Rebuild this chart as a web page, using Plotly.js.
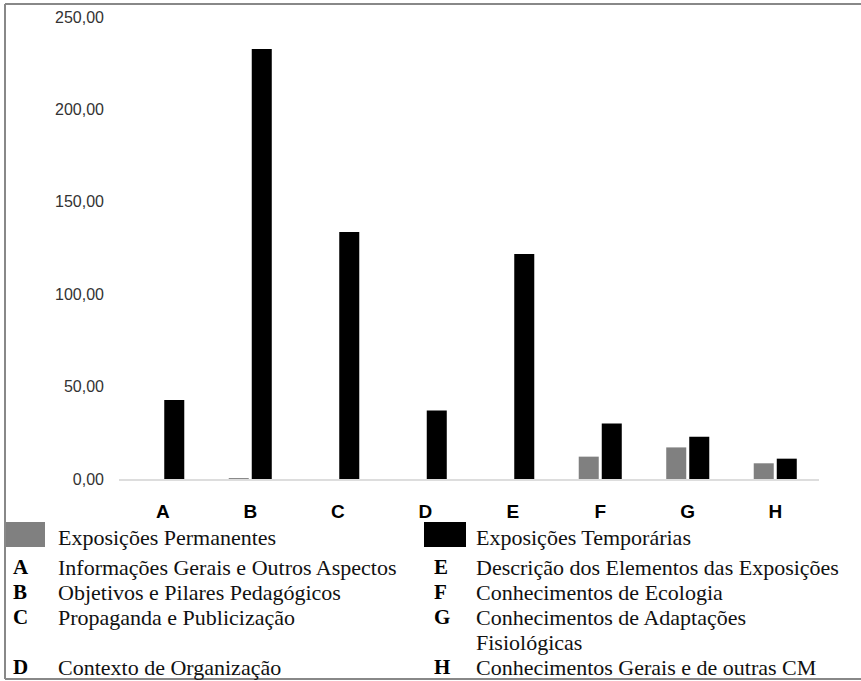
<!DOCTYPE html>
<html>
<head>
<meta charset="utf-8">
<script src="https://cdn.plot.ly/plotly-3.0.1.min.js"></script>
<style>html,body{margin:0;padding:0;background:#fff}#chart{width:861px;height:681px}</style>
</head>
<body>
<div id="chart"></div>
<script>
const categories = ['A','B','C','D','E','F','G','H'];
const permanentes = [0, 0.5, 0, 0, 0, 12.1, 17.1, 8.5];
const temporarias = [42.7, 232.7, 133.7, 37.0, 121.8, 30.1, 22.9, 11.0];
const seriesNames = ['Exposições Permanentes', 'Exposições Temporárias'];
const legendLeft = [
  ['A', 'Informações Gerais e Outros Aspectos'],
  ['B', 'Objetivos e Pilares Pedagógicos'],
  ['C', 'Propaganda e Publicização'],
  ['', ''],
  ['D', 'Contexto de Organização']
];
const legendRight = [
  ['E', 'Descrição dos Elementos das Exposições'],
  ['F', 'Conhecimentos de Ecologia'],
  ['G', 'Conhecimentos de Adaptações'],
  ['', 'Fisiológicas'],
  ['H', 'Conhecimentos Gerais e de outras CM']
];
const colors = ['#808080', '#000000'];

// plot area in pixels
const L = 119, R = 819, T = 17, B = 479;
const px = x => (x - L) / (R - L);
const py = y => (B - y) / (B - T);

const traces = [
  {type:'bar', x:categories, y:permanentes, name:seriesNames[0], marker:{color:colors[0]}},
  {type:'bar', x:categories, y:temporarias, name:seriesNames[1], marker:{color:colors[1]}}
];

const serif = 'Liberation Serif, Times New Roman, serif';
const annotations = [];
const shapes = [];
// series swatches
[[5,45,56],[424,466,474]].forEach((p,i)=>{
  shapes.push({type:'rect', xref:'paper', yref:'paper', x0:px(p[0]), x1:px(p[1]), y0:py(547), y1:py(522),
    fillcolor:colors[i], line:{width:0}});
  annotations.push({xref:'paper', yref:'paper', x:px(p[2]), y:py(537), xanchor:'left', yanchor:'middle',
    text:seriesNames[i], showarrow:false, font:{family:serif, size:22, color:'#111'}});
});
const rowY = [567, 592, 617, 642, 667];
function addCol(list, lx, tx){
  list.forEach((r,i)=>{
    if(r[0]) annotations.push({xref:'paper', yref:'paper', x:px(lx), y:py(rowY[i]), xanchor:'left', yanchor:'middle',
      text:'<b>'+r[0]+'</b>', showarrow:false, font:{family:serif, size:21, color:'#000'}});
    if(r[1]) annotations.push({xref:'paper', yref:'paper', x:px(tx), y:py(rowY[i]), xanchor:'left', yanchor:'middle',
      text:r[1], showarrow:false, font:{family:serif, size:22, color:'#111'}});
  });
}
addCol(legendLeft, 11, 56);
addCol(legendRight, 432, 474);

// frame lines (left, top, bottom)
const fl = {color:'#888', width:2};
shapes.push({type:'line', xref:'paper', yref:'paper', x0:px(5), x1:px(5), y0:py(4), y1:py(679), line:fl});
shapes.push({type:'line', xref:'paper', yref:'paper', x0:px(5), x1:px(861), y0:py(4), y1:py(4), line:fl});
shapes.push({type:'line', xref:'paper', yref:'paper', x0:px(5), x1:px(861), y0:py(679), y1:py(679), line:fl});

const layout = {
  width:861, height:681,
  margin:{l:L, r:861-R, t:T, b:681-B, pad:0},
  paper_bgcolor:'#fff', plot_bgcolor:'#fff',
  showlegend:false,
  barmode:'group', bargap:0.474, bargroupgap:0.13,
  separators:',.',
  xaxis:{showgrid:false, zeroline:false, showline:true, linecolor:'#dddddd', linewidth:2,
    ticks:'', tickvals:categories, ticktext:categories.map(c=>'<b>'+c+'</b>'),
    tickfont:{family:'Liberation Sans, Arial, sans-serif', size:19, color:'#000'}, ticklabelstandoff:14},
  yaxis:{range:[0,250], tickvals:[0,50,100,150,200,250], tickformat:'.2f', showgrid:false, zeroline:false,
    showline:false, ticks:'', tickfont:{family:'Liberation Sans, Arial, sans-serif', size:16, color:'#333'},
    ticklabelstandoff:14},
  shapes:shapes,
  annotations:annotations
};
Plotly.newPlot('chart', traces, layout, {displayModeBar:false, staticPlot:true});
</script>
</body>
</html>
